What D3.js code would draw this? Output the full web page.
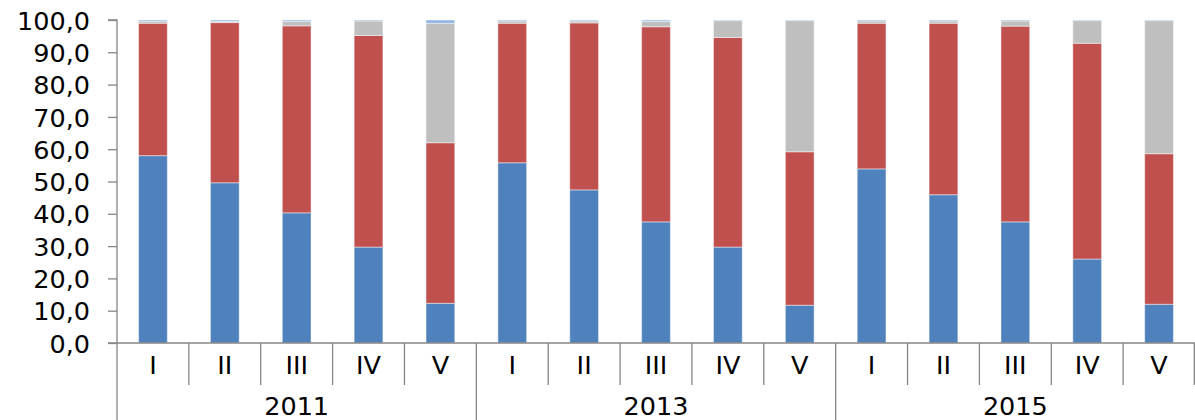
<!DOCTYPE html>
<html>
<head>
<meta charset="utf-8">
<script src="https://cdn.jsdelivr.net/npm/d3@7"></script>
<style>
  body { margin: 0; background: #fff; }
  svg { display: block; }
  text { font-family: "DejaVu Sans", Verdana, sans-serif; fill: #000; }
</style>
</head>
<body>
<svg width="1195" height="420"></svg>
<script>
// categories
const years = ['2011', '2013', '2015'];
const parts = ['I', 'II', 'III', 'IV', 'V'];

// series values, one per bar (2011 I..V, 2013 I..V, 2015 I..V)
const blue  = [58.0, 49.6, 40.3, 29.7, 12.3,  55.8, 47.4, 37.5, 29.7, 11.7,  53.9, 45.9, 37.5, 26.0, 12.0];
const red   = [41.0, 49.6, 57.9, 65.5, 49.7,  43.2, 51.7, 60.4, 64.9, 47.5,  45.1, 53.1, 60.6, 66.8, 46.6];
const gray  = [0.6, 0.4, 1.4, 4.5, 37.0,  0.7, 0.6, 1.7, 5.2, 40.6,  0.7, 0.7, 1.6, 7.0, 41.2];
const light = [0.4, 0.4, 0.4, 0.3, 1.0,  0.3, 0.3, 0.4, 0.2, 0.2,  0.3, 0.3, 0.3, 0.2, 0.2];

const yTicks = [0, 10, 20, 30, 40, 50, 60, 70, 80, 90, 100];

const seriesKeys = ['blue', 'red', 'gray', 'light'];
const colors = {blue: '#4f81bd', red: '#c0504d', gray: '#bfbfbf', light: '#8db4e2'};

// build table for the stack
let rows = [];
years.forEach((yr, yi) => {
  parts.forEach((p, pi) => {
    const i = yi * parts.length + pi;
    rows.push({id: yr + '-' + p, year: yr, part: p,
      blue: blue[i], red: red[i], gray: gray[i], light: light[i]});
  });
});

const plotLeft = 117, plotRight = 1195, plotTop = 20, plotBottom = 343;
const svg = d3.select('svg');

const x = d3.scaleBand()
  .domain(rows.map(d => d.id))
  .range([plotLeft, plotRight])
  .paddingInner(0.6)
  .paddingOuter(0.3);
const step = x.step();

const y = d3.scaleLinear().domain([0, 100]).range([plotBottom, plotTop]);

const stacked = d3.stack().keys(seriesKeys)(rows);

const g = svg.append('g');
g.selectAll('g.series')
  .data(stacked)
  .enter()
  .append('g')
  .attr('class', 'series')
  .attr('fill', s => colors[s.key])
  .selectAll('rect')
  .data(s => s)
  .enter()
  .append('rect')
  .attr('x', d => x(d.data.id))
  .attr('width', x.bandwidth())
  .attr('y', d => y(d[1]))
  .attr('height', d => y(d[0]) - y(d[1]))
  .attr('stroke', 'rgba(255,255,255,0.45)')
  .attr('stroke-width', 1);

// y axis
const axisColor = '#868686';
const yAxis = d3.axisLeft(y)
  .tickValues(yTicks)
  .tickSize(9)
  .tickPadding(18)
  .tickFormat(d => d3.format('.1f')(d).replace('.', ','));
const ya = svg.append('g')
  .attr('transform', `translate(${plotLeft},0)`)
  .call(yAxis);
ya.selectAll('path').attr('stroke', axisColor).attr('stroke-width', 1.3)
  .attr('d', `M-9,${plotTop}H0V${plotBottom}`);
ya.selectAll('line').attr('stroke', axisColor).attr('stroke-width', 1.3);
ya.selectAll('text')
  .style('font-size', '25.5px')
  .attr('dy', '0.36em')
  .attr('fill', '#000');

// x axis line
svg.append('line')
  .attr('x1', plotLeft - 9).attr('x2', plotRight)
  .attr('y1', plotBottom).attr('y2', plotBottom)
  .attr('stroke', axisColor).attr('stroke-width', 1.3);

// category separators
const xa = svg.append('g');
rows.forEach((d, i) => {
  const x0 = plotLeft + i * step;
  const isYear = i % parts.length === 0;
  xa.append('line')
    .attr('x1', x0).attr('x2', x0)
    .attr('y1', plotBottom).attr('y2', isYear ? 420 : 385)
    .attr('stroke', axisColor).attr('stroke-width', 1.3);
  xa.append('text')
    .attr('x', x(d.id) + x.bandwidth() / 2)
    .attr('y', 365)
    .attr('dy', '0.36em')
    .attr('text-anchor', 'middle')
    .style('font-size', '25.5px')
    .text(d.part);
});
xa.append('line')
  .attr('x1', plotRight - 0.7).attr('x2', plotRight - 0.7)
  .attr('y1', plotBottom).attr('y2', 385)
  .attr('stroke', axisColor).attr('stroke-width', 1.3);

// year labels
years.forEach((yr, yi) => {
  const x0 = plotLeft + yi * parts.length * step;
  xa.append('text')
    .attr('x', x0 + parts.length * step / 2)
    .attr('y', 406)
    .attr('dy', '0.36em')
    .attr('text-anchor', 'middle')
    .style('font-size', '25.5px')
    .text(yr);
});
</script>
</body>
</html>
